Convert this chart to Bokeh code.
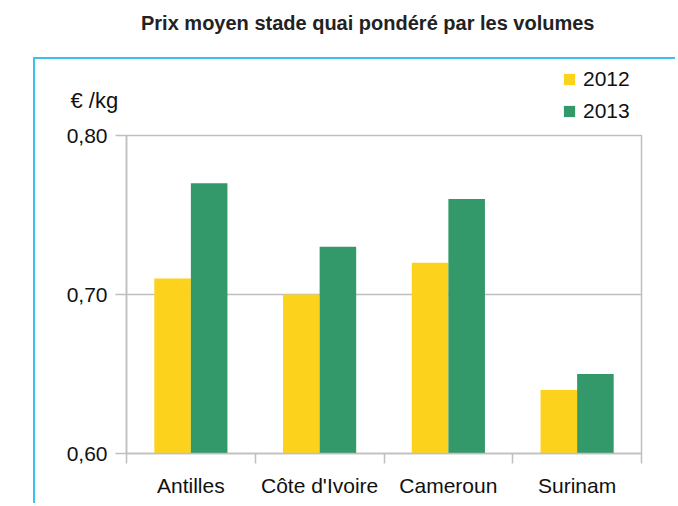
from bokeh.plotting import figure
from bokeh.models import (FixedTicker, CustomJSTickFormatter, Div, Range1d,
                          ColumnDataSource, Legend, LegendItem, Label)
from bokeh.layouts import column
from bokeh.embed import file_html
from bokeh.resources import INLINE

# ---- data ----
title_text = "Prix moyen stade quai pondéré par les volumes"
categories = ["Antilles", "Côte d'Ivoire", "Cameroun", "Surinam"]
years = ["2012", "2013"]
values_2012 = [0.71, 0.70, 0.72, 0.64]
values_2013 = [0.77, 0.73, 0.76, 0.65]
y_ticks = [0.60, 0.70, 0.80]
unit_label = "€ /kg"

# ---- styles ----
FONT = "Liberation Sans"
YELLOW = "#FCD21C"
GREEN = "#33996A"
GRAY = "#BFBFBF"
BLUE = "#3DBFF0"
TXT = "#111111"

y_min, y_max = y_ticks[0], y_ticks[-1]
n = len(categories)
centers = [i + 0.5 for i in range(n)]
bar_w = 0.284

src = ColumnDataSource(dict(
    x1=[c - bar_w / 2 for c in centers],
    x2=[c + bar_w / 2 for c in centers],
    v12=values_2012,
    v13=values_2013,
))

# ---------------- header strip (legend + unit) ----------------
HW, HH = 642, 64
head = figure(width=HW, height=HH, output_backend="svg", toolbar_location=None,
              x_range=Range1d(0, HW), y_range=Range1d(0, HH),
              x_axis_location=None, y_axis_location=None,
              min_border_left=0, min_border_right=0, min_border_top=0, min_border_bottom=0,
              margin=(0, 0, 0, 33),
              styles={"border-left": f"2px solid {BLUE}", "border-top": f"2px solid {BLUE}"})
head.frame_align = False
head.outline_line_color = None
head.grid.grid_line_color = None
head.background_fill_color = "white"
head.border_fill_color = "white"

# hidden copies of the two series, used only as legend keys
h12 = head.vbar(x="x1", top="v12", bottom=y_min, width=bar_w, source=src,
                fill_color=YELLOW, line_color=None)
h13 = head.vbar(x="x2", top="v13", bottom=y_min, width=bar_w, source=src,
                fill_color=GREEN, line_color=None)
h12.visible = False
h13.visible = False

lg = Legend(items=[LegendItem(label=years[0], renderers=[h12]),
                   LegendItem(label=years[1], renderers=[h13])])
lg.location = (527, 0)
lg.background_fill_alpha = 0
lg.border_line_color = None
lg.padding = 0
lg.margin = 0
lg.spacing = 8
lg.glyph_width = 14
lg.glyph_height = 14
lg.label_standoff = 7
lg.label_height = 24
lg.label_text_font = FONT
lg.label_text_font_size = "21px"
lg.label_text_color = TXT
lg.inactive_fill_alpha = 0
head.add_layout(lg)

head.add_layout(Label(x=35, y=23, text=unit_label, text_font=FONT, text_font_size="22px",
                      text_color=TXT, text_align="left", text_baseline="alphabetic"))

# ---------------- main chart ----------------
p = figure(width=642, height=382, output_backend="svg", toolbar_location=None,
           x_range=Range1d(0, n), y_range=Range1d(y_min, y_max),
           min_border_left=91, min_border_right=36, min_border_top=14, min_border_bottom=50,
           margin=(0, 0, 0, 33),
           styles={"border-left": f"2px solid {BLUE}"})
p.frame_align = False

p.vbar(x="x1", top="v12", bottom=y_min, width=bar_w, source=src,
       fill_color=YELLOW, line_color=None)
p.vbar(x="x2", top="v13", bottom=y_min, width=bar_w, source=src,
       fill_color=GREEN, line_color=None)

p.outline_line_color = GRAY
p.outline_line_width = 1.5
p.background_fill_color = "white"
p.border_fill_color = "white"

# x axis
xa = p.xaxis[0]
xa.ticker = FixedTicker(ticks=centers, minor_ticks=list(range(n + 1)))
xa.major_label_overrides = {c: lab for c, lab in zip(centers, categories)}
xa.major_tick_line_color = None
xa.major_tick_out = 10
xa.major_tick_in = 0
xa.minor_tick_out = 10
xa.minor_tick_in = 0
xa.minor_tick_line_color = GRAY
xa.minor_tick_line_width = 1.5
xa.axis_line_color = GRAY
xa.axis_line_width = 1.5
xa.major_label_standoff = 10
xa.major_label_text_font = FONT
xa.major_label_text_font_size = "21px"
xa.major_label_text_color = TXT
p.xgrid.grid_line_color = None

# y axis
ya = p.yaxis[0]
ya.ticker = FixedTicker(ticks=y_ticks)
ya.formatter = CustomJSTickFormatter(code="return tick.toFixed(2).replace('.', ',');")
ya.major_tick_out = 11
ya.major_tick_in = 0
ya.major_tick_line_color = GRAY
ya.major_tick_line_width = 1.5
ya.minor_tick_line_color = None
ya.axis_line_color = GRAY
ya.axis_line_width = 1.5
ya.major_label_standoff = 8
ya.major_label_text_font = FONT
ya.major_label_text_font_size = "21px"
ya.major_label_text_color = TXT
p.ygrid.grid_line_color = GRAY
p.ygrid.grid_line_width = 1.5

title = Div(text=(f'<div style="margin-left:141px; margin-top:9px; white-space:nowrap; '
                  f'font-family:\'{FONT}\'; font-weight:bold; font-size:20px; color:#222222;">'
                  f'{title_text}</div>'),
            width=670, height=57, margin=0)

layout = column(title, head, p, spacing=0)

open("out.html", "w").write(file_html(layout, INLINE))
